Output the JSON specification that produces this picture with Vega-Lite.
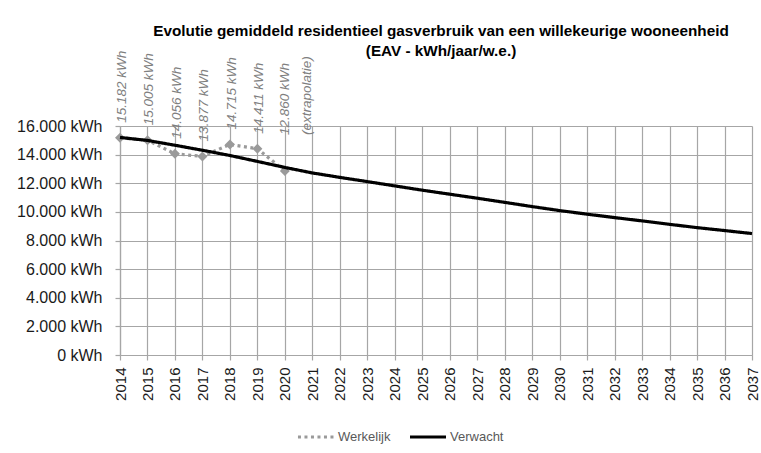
{
  "$schema": "https://vega.github.io/schema/vega-lite/v6.json",
  "width": 632,
  "height": 229,
  "autosize": {"type": "none"},
  "padding": {"left": 120, "top": 126, "right": 9, "bottom": 98},
  "background": "white",
  "config": {
    "font": "Liberation Sans",
    "view": {"stroke": null}
  },
  "title": {
    "text": ["Evolutie gemiddeld residentieel gasverbruik van een willekeurige wooneenheid", "(EAV - kWh/jaar/w.e.)"],
    "frame": "group",
    "anchor": "middle",
    "orient": "top",
    "fontSize": 15.3,
    "fontWeight": "bold",
    "font": "Liberation Sans",
    "color": "#000000",
    "lineHeight": 20,
    "offset": -9,
    "dx": 5
  },
  "datasets": {
    "werkelijk": [
      {"year": 2014, "value": 15182, "series": "Werkelijk", "label": "15.182 kWh"},
      {"year": 2015, "value": 15005, "series": "Werkelijk", "label": "15.005 kWh"},
      {"year": 2016, "value": 14056, "series": "Werkelijk", "label": "14.056 kWh"},
      {"year": 2017, "value": 13877, "series": "Werkelijk", "label": "13.877 kWh"},
      {"year": 2018, "value": 14715, "series": "Werkelijk", "label": "14.715 kWh"},
      {"year": 2019, "value": 14411, "series": "Werkelijk", "label": "14.411 kWh"},
      {"year": 2020, "value": 12860, "series": "Werkelijk", "label": "12.860 kWh\n(extrapolatie)"}
    ],
    "verwacht": [
      {"year": 2014, "value": 15200, "series": "Verwacht"},
      {"year": 2015, "value": 14990, "series": "Verwacht"},
      {"year": 2016, "value": 14655, "series": "Verwacht"},
      {"year": 2017, "value": 14305, "series": "Verwacht"},
      {"year": 2018, "value": 13940, "series": "Verwacht"},
      {"year": 2019, "value": 13525, "series": "Verwacht"},
      {"year": 2020, "value": 13105, "series": "Verwacht"},
      {"year": 2021, "value": 12720, "series": "Verwacht"},
      {"year": 2022, "value": 12410, "series": "Verwacht"},
      {"year": 2023, "value": 12115, "series": "Verwacht"},
      {"year": 2024, "value": 11815, "series": "Verwacht"},
      {"year": 2025, "value": 11515, "series": "Verwacht"},
      {"year": 2026, "value": 11235, "series": "Verwacht"},
      {"year": 2027, "value": 10955, "series": "Verwacht"},
      {"year": 2028, "value": 10665, "series": "Verwacht"},
      {"year": 2029, "value": 10370, "series": "Verwacht"},
      {"year": 2030, "value": 10090, "series": "Verwacht"},
      {"year": 2031, "value": 9840, "series": "Verwacht"},
      {"year": 2032, "value": 9600, "series": "Verwacht"},
      {"year": 2033, "value": 9370, "series": "Verwacht"},
      {"year": 2034, "value": 9130, "series": "Verwacht"},
      {"year": 2035, "value": 8900, "series": "Verwacht"},
      {"year": 2036, "value": 8695, "series": "Verwacht"},
      {"year": 2037, "value": 8485, "series": "Verwacht"}
    ]
  },
  "encoding": {
    "x": {
      "field": "year",
      "type": "quantitative",
      "scale": {"domain": [2014, 2037], "nice": false, "zero": false},
      "axis": {
        "title": null,
        "values": [2014,2015,2016,2017,2018,2019,2020,2021,2022,2023,2024,2025,2026,2027,2028,2029,2030,2031,2032,2033,2034,2035,2036,2037],
        "format": "d",
        "labelAngle": -90,
        "labelFontSize": 15,
        "labelColor": "#1a1a1a",
        "labelPadding": 7,
        "labelFlush": false,
        "labelOverlap": false,
        "grid": true,
        "gridColor": "#a6a6a6",
        "gridWidth": 1.2,
        "domainColor": "#a6a6a6",
        "domainWidth": 1.2,
        "tickColor": "#a6a6a6",
        "tickWidth": 1.2,
        "tickSize": 5
      }
    },
    "y": {
      "field": "value",
      "type": "quantitative",
      "scale": {"domain": [0, 16000], "nice": false},
      "axis": {
        "title": null,
        "values": [0, 2000, 4000, 6000, 8000, 10000, 12000, 14000, 16000],
        "labelExpr": "replace(format(datum.value, ',.0f'), ',', '.') + ' kWh'",
        "labelFontSize": 16,
        "labelColor": "#1a1a1a",
        "labelPadding": 13,
        "grid": true,
        "gridColor": "#a6a6a6",
        "gridWidth": 1.2,
        "domainColor": "#a6a6a6",
        "domainWidth": 1.2,
        "tickColor": "#a6a6a6",
        "tickWidth": 1.2,
        "tickSize": 5
      }
    }
  },
  "layer": [
    {
      "data": {"name": "werkelijk"},
      "mark": {"type": "line", "strokeWidth": 3.2},
      "encoding": {
        "color": {
          "field": "series",
          "type": "nominal",
          "scale": {"domain": ["Werkelijk", "Verwacht"], "range": ["#9a9a9a", "#000000"]},
          "legend": {
            "title": null,
            "orient": "none",
            "direction": "horizontal",
            "legendX": 176,
            "legendY": 291,
            "symbolType": "stroke",
            "symbolSize": 1300,
            "symbolStrokeWidth": 3.2,
            "labelFontSize": 13,
            "labelColor": "#595959",
            "labelOffset": 2,
            "columnPadding": 12
          }
        },
        "strokeDash": {
          "field": "series",
          "type": "nominal",
          "scale": {"domain": ["Werkelijk", "Verwacht"], "range": [[3, 3.5], [1, 0]]},
          "legend": null
        }
      }
    },
    {
      "data": {"name": "werkelijk"},
      "mark": {"type": "point", "shape": "diamond", "filled": true, "color": "#9a9a9a", "size": 100, "opacity": 1}
    },
    {
      "data": {"name": "werkelijk"},
      "transform": [{"filter": "datum.year < 2020"}],
      "mark": {"type": "text", "angle": 270, "align": "left", "baseline": "middle", "dx": 15, "dy": 2, "fontStyle": "italic", "fontSize": 13.5, "color": "#7f7f7f"},
      "encoding": {"text": {"field": "label"}}
    },
    {
      "data": {"name": "werkelijk"},
      "transform": [{"filter": "datum.year == 2020"}],
      "mark": {"type": "text", "angle": 270, "align": "left", "baseline": "middle", "dx": 36, "dy": 0, "lineBreak": "\n", "lineHeight": 22, "fontStyle": "italic", "fontSize": 13.5, "color": "#7f7f7f"},
      "encoding": {"text": {"field": "label"}}
    },
    {
      "data": {"name": "verwacht"},
      "mark": {"type": "line", "strokeWidth": 3.2},
      "encoding": {
        "color": {"field": "series", "type": "nominal"},
        "strokeDash": {"field": "series", "type": "nominal"}
      }
    }
  ]
}
